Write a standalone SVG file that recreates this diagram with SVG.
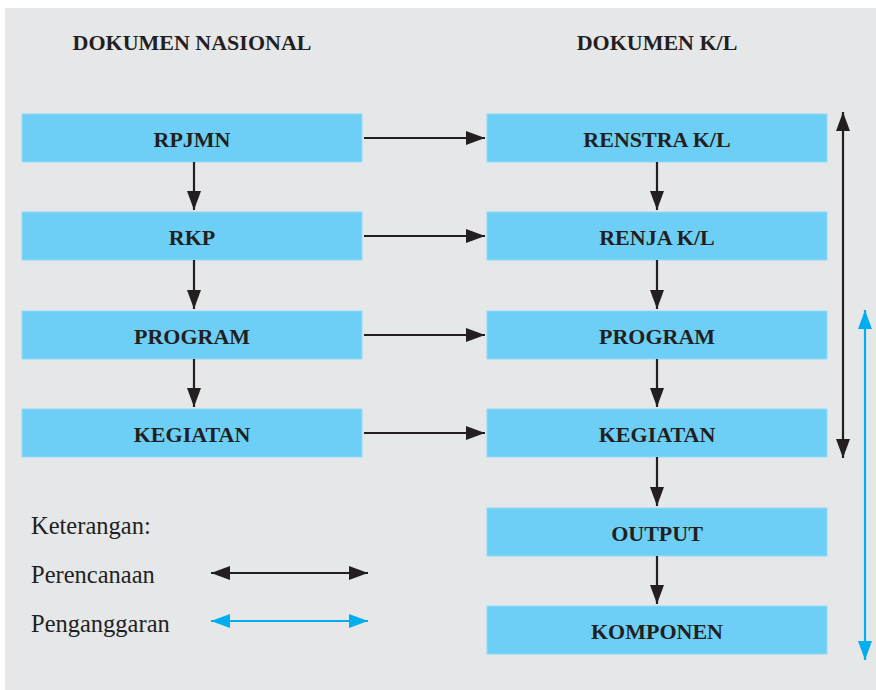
<svg xmlns="http://www.w3.org/2000/svg" width="876" height="690" viewBox="0 0 876 690">
<style>
.box{fill:#6dcff6;stroke:#8fdcf8;stroke-width:1}
.lbl{font-family:"Liberation Serif","Times New Roman",serif;font-weight:bold;font-size:22px;fill:#231f20;text-anchor:middle}
.leg{font-family:"Liberation Serif","Times New Roman",serif;font-size:24.5px;fill:#231f20}
.k{stroke:#231f20;stroke-width:2.2;fill:none}
.b{stroke:#00aeef;stroke-width:2.2;fill:none}
</style>
<defs>
<marker id="ak" markerUnits="userSpaceOnUse" markerWidth="20" markerHeight="16" refX="19" refY="7" orient="auto-start-reverse"><path d="M0,0 L19,7 L0,14 Z" fill="#231f20"/></marker>
<marker id="ab" markerUnits="userSpaceOnUse" markerWidth="20" markerHeight="16" refX="19" refY="7" orient="auto-start-reverse"><path d="M0,0 L19,7 L0,14 Z" fill="#00aeef"/></marker>
</defs>
<rect x="5" y="8" width="871" height="682" fill="#e6e7e8"/>
<text class="lbl" x="192" y="50">DOKUMEN NASIONAL</text>
<text class="lbl" x="657" y="50">DOKUMEN K/L</text>
<g id="n-rpjmn"><rect class="box" x="22" y="114" width="340" height="48"/><text class="lbl" x="192" y="147">RPJMN</text></g>
<g id="n-rkp"><rect class="box" x="22" y="212" width="340" height="48"/><text class="lbl" x="192" y="245">RKP</text></g>
<g id="n-program-nas"><rect class="box" x="22" y="311" width="340" height="48"/><text class="lbl" x="192" y="344">PROGRAM</text></g>
<g id="n-kegiatan-nas"><rect class="box" x="22" y="409" width="340" height="48"/><text class="lbl" x="192" y="442">KEGIATAN</text></g>
<g id="n-renstra"><rect class="box" x="487" y="114" width="340" height="48"/><text class="lbl" x="657" y="147">RENSTRA K/L</text></g>
<g id="n-renja"><rect class="box" x="487" y="212" width="340" height="48"/><text class="lbl" x="657" y="245">RENJA K/L</text></g>
<g id="n-program-kl"><rect class="box" x="487" y="311" width="340" height="48"/><text class="lbl" x="657" y="344">PROGRAM</text></g>
<g id="n-kegiatan-kl"><rect class="box" x="487" y="409" width="340" height="48"/><text class="lbl" x="657" y="442">KEGIATAN</text></g>
<g id="n-output"><rect class="box" x="487" y="508" width="340" height="48"/><text class="lbl" x="657" y="541">OUTPUT</text></g>
<g id="n-komponen"><rect class="box" x="487" y="606" width="340" height="48"/><text class="lbl" x="657" y="639">KOMPONEN</text></g>
<g id="connectors">
<line class="k" x1="364" y1="138" x2="485" y2="138" marker-end="url(#ak)"/>
<line class="k" x1="364" y1="236" x2="485" y2="236" marker-end="url(#ak)"/>
<line class="k" x1="364" y1="335" x2="485" y2="335" marker-end="url(#ak)"/>
<line class="k" x1="364" y1="433" x2="485" y2="433" marker-end="url(#ak)"/>
<line class="k" x1="194" y1="162" x2="194" y2="210" marker-end="url(#ak)"/>
<line class="k" x1="194" y1="260" x2="194" y2="309" marker-end="url(#ak)"/>
<line class="k" x1="194" y1="359" x2="194" y2="407" marker-end="url(#ak)"/>
<line class="k" x1="657" y1="162" x2="657" y2="210" marker-end="url(#ak)"/>
<line class="k" x1="657" y1="260" x2="657" y2="309" marker-end="url(#ak)"/>
<line class="k" x1="657" y1="359" x2="657" y2="407" marker-end="url(#ak)"/>
<line class="k" x1="657" y1="457" x2="657" y2="506" marker-end="url(#ak)"/>
<line class="k" x1="657" y1="556" x2="657" y2="604" marker-end="url(#ak)"/>
<line class="k" x1="843" y1="112" x2="843" y2="458" marker-start="url(#ak)" marker-end="url(#ak)"/>
<line class="b" x1="865" y1="310" x2="865" y2="660" marker-start="url(#ab)" marker-end="url(#ab)"/>
</g>
<g id="legend">
<text class="leg" x="31" y="534">Keterangan:</text>
<text class="leg" x="31" y="583">Perencanaan</text>
<text class="leg" x="31" y="632">Penganggaran</text>
<line class="k" x1="211" y1="573" x2="368" y2="573" marker-start="url(#ak)" marker-end="url(#ak)"/>
<line class="b" x1="211" y1="621" x2="368" y2="621" marker-start="url(#ab)" marker-end="url(#ab)"/>
</g>
</svg>
